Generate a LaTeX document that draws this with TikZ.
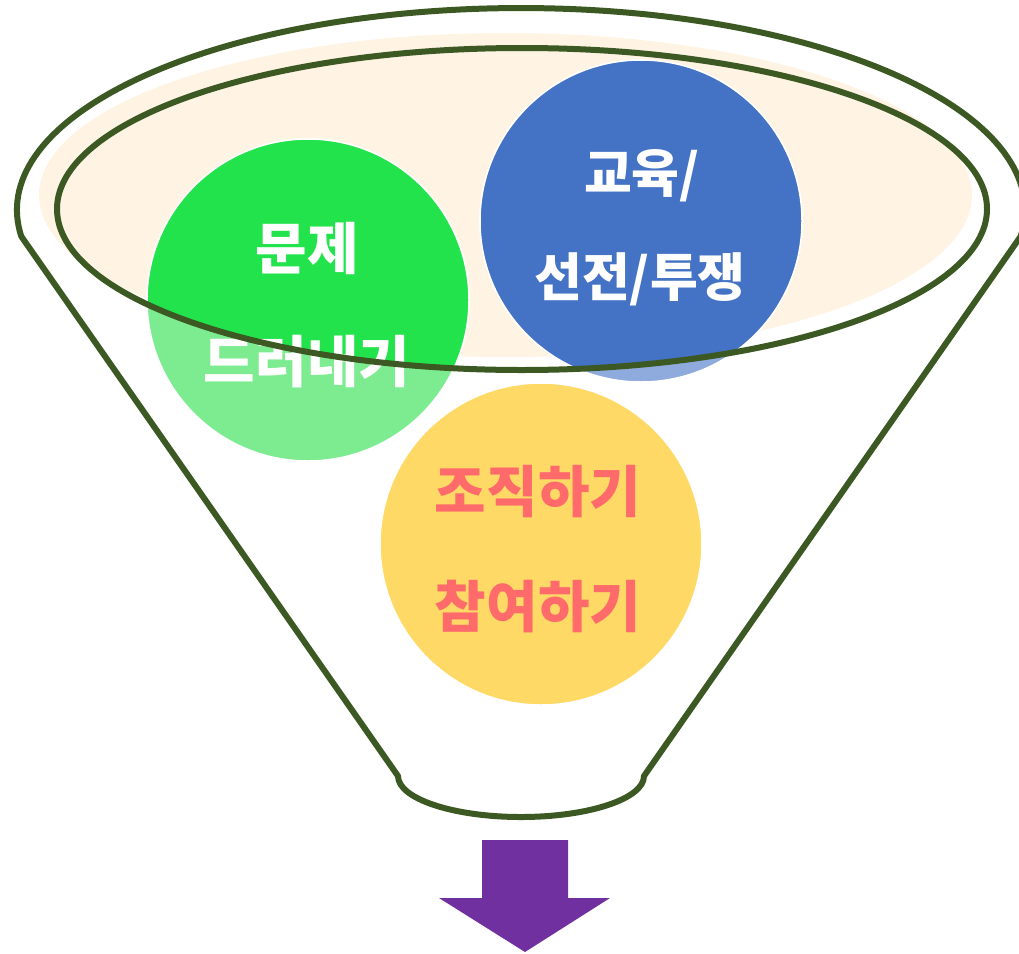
\documentclass[tikz,border=0pt]{standalone}
\usepackage{fontspec}
\newfontfamily\kr{Noto Sans CJK KR}
\begin{document}
\begin{tikzpicture}[x=1pt,y=-1pt,
  circ/.style={circle,minimum size=322pt,inner sep=0pt,draw=white,line width=1.5pt},
  rim/.style={draw=funnelc,line width=6pt,line join=round},
  wtxt/.style={text=white,inner sep=0pt,anchor=center},
  ytxt/.style={text=coral,inner sep=0pt,anchor=center}]
\definecolor{funnelc}{RGB}{60,88,35}
\definecolor{beige}{RGB}{255,243,228}
\definecolor{greenD}{RGB}{34,227,75}
\definecolor{greenL}{RGB}{125,236,145}
\definecolor{blueD}{RGB}{68,114,196}
\definecolor{blueL}{RGB}{143,170,220}
\definecolor{yel}{RGB}{255,217,102}
\definecolor{coral}{RGB}{255,107,107}
\definecolor{purp}{RGB}{112,48,160}
\useasboundingbox (0,0) rectangle (1019,953);
% beige disc
\fill[beige] (505.5,195) ellipse [x radius=466.5pt, y radius=162pt];
% circles (light, outside inner rim)
\node[circ,fill=greenL] (green) at (308,300) {};
\node[circ,fill=blueL] (blue) at (641,221) {};
\node[circ,fill=yel] (yellow) at (541,544) {};
% full-colour parts inside the inner rim
\begin{scope}
  \clip (522,209) ellipse [x radius=465pt, y radius=161pt];
  \node[circ,fill=greenD] (greenin) at (308,300) {};
  \node[circ,fill=blueD] (bluein) at (641,221) {};
\end{scope}
% texts
\node[wtxt,font=\kr\bfseries\fontsize{56}{64}\selectfont] (g1) at (307,248) {문제};
\node[wtxt,font=\kr\bfseries\fontsize{56}{64}\selectfont] (g2) at (307,362) {드러내기};
\node[wtxt,font=\kr\bfseries\fontsize{52}{60}\selectfont] (b1) at (642,176) {교육/};
\node[wtxt,font=\kr\bfseries\fontsize{52}{60}\selectfont] (b2) at (640,279) {선전/투쟁};
\node[ytxt,font=\kr\bfseries\fontsize{56}{64}\selectfont] (y1) at (538,492) {조직하기};
\node[ytxt,font=\kr\bfseries\fontsize{56}{64}\selectfont] (y2) at (538,607) {참여하기};
% inner rim
\draw[rim] (522,209) ellipse [x radius=465pt, y radius=161pt];
% funnel outline
\coordinate (lc) at (21.3,236.4);
\coordinate (rb) at (644,776);
\draw[rim] (lc) arc[start angle=187.5, end angle=-7.5, x radius=504pt, y radius=202pt]
  -- (rb) arc[start angle=0, end angle=-180, x radius=123pt, y radius=41pt] -- cycle;
% arrow
\fill[purp] (482,840) -- (568,840) -- (568,898) -- (610,898) -- (525,952) -- (439,898) -- (482,898) -- cycle;
\end{tikzpicture}
\end{document}
